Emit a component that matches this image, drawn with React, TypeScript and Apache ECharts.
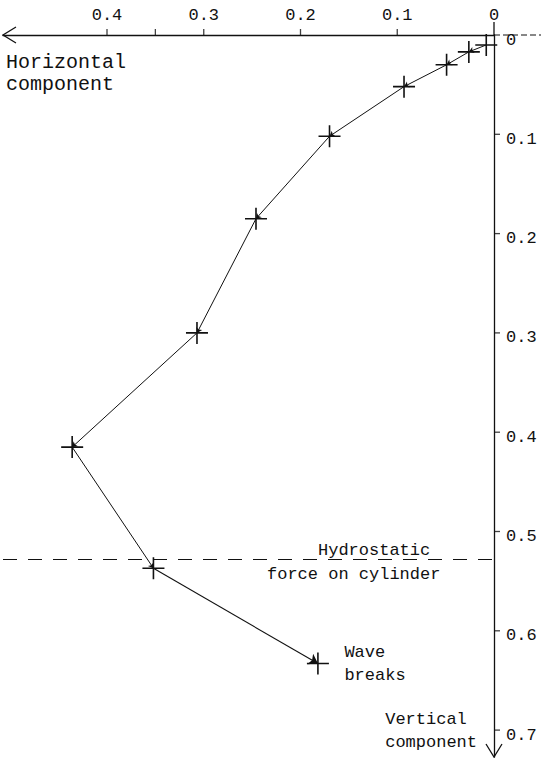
import React, { useEffect, useRef } from "react";
import * as echarts from "echarts";

// Force path of the cylinder, in sequence (horizontal grows to the left, vertical grows downward)
const horizontalComponent = [0.008, 0.026, 0.049, 0.093, 0.17, 0.246, 0.307, 0.436, 0.352, 0.182];
const verticalComponent = [0.01, 0.017, 0.03, 0.052, 0.102, 0.185, 0.3, 0.415, 0.537, 0.633];
const hydrostaticForce = 0.528;

const xTickValues = [0.1, 0.2, 0.3, 0.35, 0.4];
const xLabelValues = [0, 0.1, 0.2, 0.3, 0.4];
const yTickValues = [0.1, 0.2, 0.3, 0.4, 0.5, 0.6, 0.7];
const yLabelValues = [0, 0.1, 0.2, 0.3, 0.4, 0.5, 0.6, 0.7];

const W = 541;
const H = 758;
// the two axes cross at the grid's top-right corner
const ORIGIN_X = 494;
const ORIGIN_Y = 35;
const X_PX = 967.5; // px per unit
const Y_PX = 993;
const GRID_LEFT = 3;
const GRID_BOTTOM = 1;

const FONT = "'Liberation Mono', 'DejaVu Sans Mono', monospace";
const INK = "#111";

const fmt = (v: number) => (v === 0 ? "0" : String(Math.round(v * 10) / 10));

export default function App() {
  const ref = useRef<HTMLDivElement>(null);

  useEffect(() => {
    if (!ref.current) return;
    const chart = echarts.init(ref.current, undefined, { renderer: "svg" });

    const xMax = (ORIGIN_X - GRID_LEFT) / X_PX;
    const yMax = (H - GRID_BOTTOM - ORIGIN_Y) / Y_PX;

    const points = horizontalComponent.map((h, i) => [h, verticalComponent[i]]);
    const segments = points.slice(1).map((p, i) => ({ coords: [points[i], p] }));
    const last = points.length - 1;

    const cross = "path://M0,10L20,10M10,0L10,20";

    chart.setOption({
      animation: false,
      backgroundColor: "#fff",
      textStyle: { fontFamily: FONT, color: INK },
      grid: {
        left: GRID_LEFT,
        right: W - ORIGIN_X,
        top: ORIGIN_Y,
        bottom: GRID_BOTTOM,
        containLabel: false,
        outerBoundsMode: "none",
      },
      xAxis: {
        type: "value",
        position: "top",
        inverse: true,
        min: 0,
        max: xMax,
        axisLine: { onZero: false, lineStyle: { color: INK, width: 1.3 } },
        axisTick: { show: false },
        axisLabel: {
          customValues: xLabelValues,
          margin: 11,
          fontFamily: FONT,
          fontSize: 17,
          color: INK,
          formatter: fmt,
        },
        splitLine: { show: false },
      },
      yAxis: {
        type: "value",
        position: "right",
        inverse: true,
        min: 0,
        max: yMax,
        axisLine: { onZero: false, lineStyle: { color: INK, width: 1.3 } },
        axisTick: { show: false },
        axisLabel: {
          customValues: yLabelValues,
          margin: 12,
          verticalAlign: "top",
          lineHeight: 10,
          fontFamily: FONT,
          fontSize: 17,
          color: INK,
          formatter: fmt,
        },
        splitLine: { show: false },
      },
      series: [
        // tick marks on the horizontal axis, pointing up
        {
          type: "scatter",
          silent: true,
          data: xTickValues.map((v) => [v, 0]),
          symbol: "rect",
          symbolSize: [1.3, 6],
          symbolOffset: [0, -3],
          itemStyle: { color: INK },
          z: 6,
        },
        // tick marks on the vertical axis, pointing right
        {
          type: "scatter",
          silent: true,
          data: yTickValues.map((v) => [0, v]),
          symbol: "rect",
          symbolSize: [6, 1.3],
          symbolOffset: [3, 0],
          itemStyle: { color: INK },
          z: 6,
        },
        {
          type: "lines",
          coordinateSystem: "cartesian2d",
          data: segments.slice(0, -1),
          symbol: ["none", "arrow"],
          symbolSize: 5,
          lineStyle: { color: INK, width: 1, opacity: 1 },
          silent: true,
        },
        {
          type: "lines",
          coordinateSystem: "cartesian2d",
          data: segments.slice(-1),
          symbol: ["none", "arrow"],
          symbolSize: 9,
          lineStyle: { color: INK, width: 1.1, opacity: 1 },
          silent: true,
          markLine: {
            silent: true,
            symbol: ["none", "none"],
            label: { show: false },
            lineStyle: { color: INK, type: [14, 11], width: 1.1 },
            data: [[{ coord: [xMax, hydrostaticForce] }, { coord: [0, hydrostaticForce] }]],
          },
        },
        {
          type: "scatter",
          data: points.map((p, i) =>
            i === last
              ? {
                  value: p,
                  label: {
                    show: true,
                    position: "right",
                    distance: 13,
                    formatter: "Wave\nbreaks",
                    fontFamily: FONT,
                    fontSize: 17,
                    lineHeight: 23,
                    color: "#111",
                    align: "left",
                  },
                }
              : p
          ),
          symbol: cross,
          symbolSize: 22,
          itemStyle: { color: "none", borderColor: INK, borderWidth: 1.6, opacity: 1 },
          z: 5,
        },
      ],
      graphic: [
        // horizontal axis carried on past the vertical one
        {
          type: "line",
          shape: { x1: ORIGIN_X, y1: ORIGIN_Y, x2: W, y2: ORIGIN_Y },
          style: { stroke: INK, lineWidth: 1, lineDash: [6, 3] },
        },
        // vertical axis carried up into the top "0"
        {
          type: "line",
          shape: { x1: ORIGIN_X, y1: 22, x2: ORIGIN_X, y2: ORIGIN_Y },
          style: { stroke: INK, lineWidth: 1.3 },
        },
        {
          type: "polyline",
          shape: { points: [[16, 27], [GRID_LEFT, ORIGIN_Y], [16, 43]] },
          style: { stroke: INK, lineWidth: 1.3, fill: "none" },
        },
        {
          type: "polyline",
          shape: { points: [[ORIGIN_X - 8, H - GRID_BOTTOM - 13], [ORIGIN_X, H - GRID_BOTTOM], [ORIGIN_X + 8, H - GRID_BOTTOM - 13]] },
          style: { stroke: INK, lineWidth: 1.3, fill: "none" },
        },
        {
          type: "text",
          left: 6,
          top: 51,
          style: { text: "Horizontal\ncomponent", font: `20px ${FONT}`, lineHeight: 22, fill: INK },
        },
        {
          type: "text",
          left: 318,
          top: 542,
          style: { text: "Hydrostatic", font: `17px ${FONT}`, fill: INK },
        },
        {
          type: "text",
          left: 267,
          top: 566,
          style: { text: "force on cylinder", font: `17px ${FONT}`, fill: INK },
        },
        {
          type: "text",
          right: W - 477,
          top: 708,
          style: { text: "Vertical\ncomponent", font: `17px ${FONT}`, lineHeight: 23, fill: INK, align: "right" },
        },
      ],
    });

    return () => chart.dispose();
  }, []);

  return <div ref={ref} style={{ position: "fixed", left: 0, top: 0, width: W, height: H, background: "#fff" }} />;
}
